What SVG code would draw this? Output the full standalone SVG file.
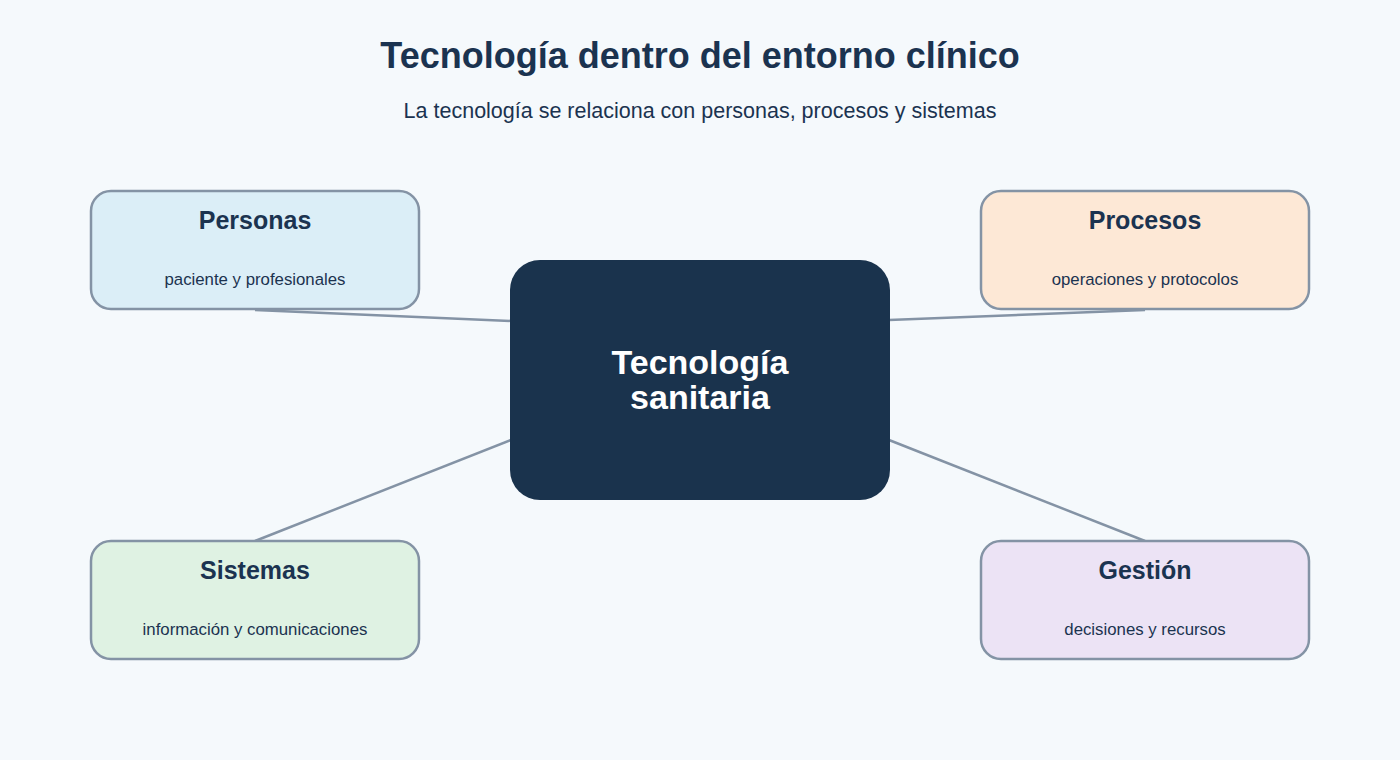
<svg xmlns="http://www.w3.org/2000/svg" width="1400" height="760" viewBox="0 0 1400 760">
<style>
.bg{fill:#f5f9fc}
.title{font-family:"Liberation Sans",Arial,sans-serif;font-weight:bold;font-size:36px;fill:#1b3350;text-anchor:middle}
.sub{font-family:"Liberation Sans",Arial,sans-serif;font-size:21.5px;fill:#1b3350;text-anchor:middle}
.box{stroke:#8493a5;stroke-width:2.5}
.bt{font-family:"Liberation Sans",Arial,sans-serif;font-weight:bold;font-size:25px;fill:#1b3350;text-anchor:middle}
.bs{font-family:"Liberation Sans",Arial,sans-serif;font-size:16.8px;fill:#1b3350;text-anchor:middle}
.ct{font-family:"Liberation Sans",Arial,sans-serif;font-weight:bold;font-size:34px;fill:#ffffff;text-anchor:middle}
.conn{stroke:#8493a5;stroke-width:2.5;fill:none}
</style>
<rect class="bg" x="0" y="0" width="1400" height="760"/>
<text class="title" x="700" y="68">Tecnología dentro del entorno clínico</text>
<text class="sub" x="700" y="118">La tecnología se relaciona con personas, procesos y sistemas</text>
<g id="connectors">
<line class="conn" x1="255" y1="310" x2="511" y2="321"/>
<line class="conn" x1="1145" y1="310" x2="889" y2="320"/>
<line class="conn" x1="255" y1="541" x2="511" y2="440"/>
<line class="conn" x1="1145" y1="541" x2="889" y2="440"/>
</g>
<g id="center">
<rect x="510" y="260" width="380" height="240" rx="30" fill="#1a334d"/>
<text class="ct" x="700" y="374">Tecnología</text>
<text class="ct" x="700" y="409">sanitaria</text>
</g>
<g id="personas">
<rect class="box" x="91" y="191" width="328" height="118" rx="20" fill="#dbeef7"/>
<text class="bt" x="255" y="229">Personas</text>
<text class="bs" x="255" y="285">paciente y profesionales</text>
</g>
<g id="procesos">
<rect class="box" x="981" y="191" width="328" height="118" rx="20" fill="#fde8d6"/>
<text class="bt" x="1145" y="229">Procesos</text>
<text class="bs" x="1145" y="285">operaciones y protocolos</text>
</g>
<g id="sistemas">
<rect class="box" x="91" y="541" width="328" height="118" rx="20" fill="#dff2e3"/>
<text class="bt" x="255" y="579">Sistemas</text>
<text class="bs" x="255" y="635">información y comunicaciones</text>
</g>
<g id="gestion">
<rect class="box" x="981" y="541" width="328" height="118" rx="20" fill="#ece3f5"/>
<text class="bt" x="1145" y="579">Gestión</text>
<text class="bs" x="1145" y="635">decisiones y recursos</text>
</g>
</svg>
